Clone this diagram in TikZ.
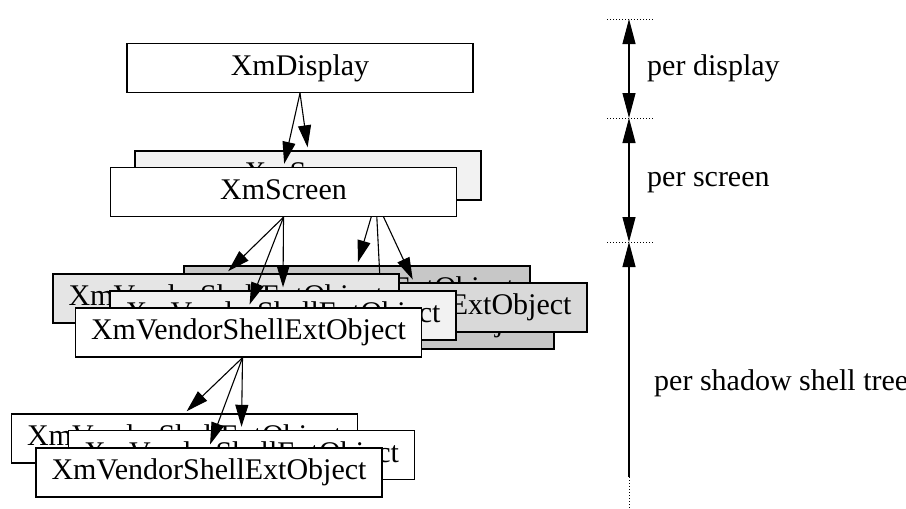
\documentclass[tikz,border=0pt]{standalone}
\usepackage{fontspec}
\setmainfont{Liberation Serif}
\usetikzlibrary{arrows.meta}

\definecolor{darkshade}{gray}{0.78}
\definecolor{midshade}{gray}{0.85}
\definecolor{lightshade}{gray}{0.9}
\definecolor{paleshade}{gray}{0.95}

\begin{document}
\begin{tikzpicture}[x=1pt, y=-1pt, >={Triangle[length=22pt,width=13pt]},
    objbox/.style={draw, line width=1.4pt, minimum width=346pt, minimum height=49pt,
      inner sep=0pt, text height=21pt, text depth=6.5pt, font=\fontsize{30}{36}\selectfont},
    linkarrow/.style={->, line width=1.1pt, shorten >=3pt},
    spanarrow/.style={line width=1.1pt, >={Triangle[length=25pt,width=13pt]}},
    levelline/.style={dotted, line width=1pt},
    levellabel/.style={anchor=west, inner sep=0pt, font=\fontsize{30}{36}\selectfont}]
    %% Background
    \useasboundingbox (0,0) rectangle (906,509);

    %% Display
    \node[objbox, fill=white] (disp) at (300,68) {XmDisplay};

    %% Second screen and its shells
    \node[objbox, fill=paleshade] (scrback) at (308,175.5) {XmScreen};
    \draw[linkarrow] (disp.south) -- (scrback.north);

    \node[objbox, fill=darkshade] (backA) at (357,290.5) {XmVendorShellExtObject};
    \node[objbox, fill=darkshade] (backC) at (381,324.5) {XmVendorShellExtObject};
    \node[objbox, fill=midshade] (backB) at (414,307.5) {XmVendorShellExtObject};
    \coordinate (fork) at ([xshift=68pt]scrback.south);
    \draw[linkarrow] (fork) -- (backA.north);
    \draw[linkarrow] (fork) -- (backB.north);
    \draw[linkarrow] (fork) -- (backC.north);

    %% First screen
    \node[objbox, fill=white] (scr) at (283.5,192) {XmScreen};
    \draw[linkarrow] (disp.south) -- (scr.north);

    %% Shells of the first screen
    \node[objbox, fill=lightshade] (shellA) at (226,298.5) {XmVendorShellExtObject};
    \node[objbox, fill=paleshade] (shellB) at (283,315.5) {XmVendorShellExtObject};
    \node[objbox, fill=white] (shell) at (248.5,332.5) {XmVendorShellExtObject};
    \draw[linkarrow] (scr.south) -- (shellA.north);
    \draw[linkarrow] (scr.south) -- (shellB.north);
    \draw[linkarrow] (scr.south) -- (shell.north);

    %% Children of the shell
    \node[objbox, fill=white] (childA) at (184.5,438.5) {XmVendorShellExtObject};
    \node[objbox, fill=white] (childB) at (241.5,455) {XmVendorShellExtObject};
    \node[objbox, fill=white] (child) at (209,472.5) {XmVendorShellExtObject};
    \coordinate (stem) at ([xshift=-6pt]shell.south);
    \draw[linkarrow] (stem) -- (childA.north);
    \draw[linkarrow] (stem) -- (childB.north);
    \draw[linkarrow] (stem) -- (child.north);

    %% Levels
    \coordinate (lv0) at (629,19);
    \coordinate (lv1) at (629,118);
    \coordinate (lv2) at (629,242);
    \coordinate (lv3) at (629,477);
    \coordinate (lv4) at (629,508);
    \foreach \c in {lv0,lv1,lv2}
        \draw[levelline] ([xshift=-22pt]\c) -- ([xshift=25pt]\c);
    \draw[spanarrow, <->] (lv0) -- (lv1);
    \draw[spanarrow, <->] (lv1) -- (lv2);
    \draw[spanarrow, <-] (lv2) -- (lv3);
    \draw[levelline] (lv3) -- (lv4);

    \node[levellabel] (perdisp) at (647,68) {per display};
    \node[levellabel] (perscr) at (647,183) {per screen};
    \node[levellabel] (pertree) at (654,383) {per shadow shell tree};

\end{tikzpicture}
\end{document}
